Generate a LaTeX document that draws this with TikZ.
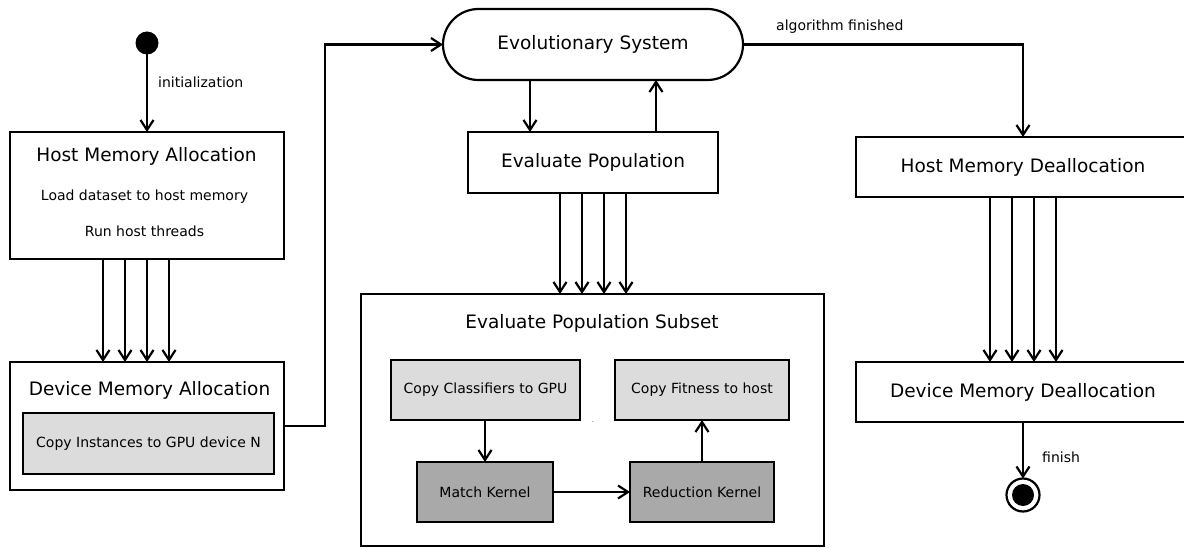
\documentclass[tikz,border=0pt]{standalone}
\usepackage{fontspec}
\setmainfont{DejaVu Sans}
\usetikzlibrary{arrows.meta,shapes.misc}
\definecolor{lightg}{HTML}{DCDCDC}
\definecolor{darkg}{HTML}{A9A9A9}
\begin{document}
\begin{tikzpicture}[x=1pt,y=-1pt,
  box/.style={draw=black, line width=2.2pt, fill=white, inner sep=0pt, outer sep=0pt},
  lbox/.style={box, fill=lightg},
  dbox/.style={box, fill=darkg},
  conn/.style={line width=2.2pt, -{Straight Barb[length=10pt,width=13pt]}},
  big/.style={font=\fontsize{18.5}{22}\selectfont, inner sep=0pt},
  small/.style={font=\fontsize{14}{17}\selectfont, inner sep=0pt}]
\useasboundingbox (0,0) rectangle (1184,548);

% start
\node[circle, fill=black, minimum size=23pt, inner sep=0pt, outer sep=0pt] (start) at (147,43) {};
\node[small, anchor=west] (initl) at (158,82) {initialization};

% host memory allocation
\node[box, minimum width=274pt, minimum height=127pt] (hma) at (147,195.5) {};
\node[big] (hmat) at (146.5,156) {Host Memory Allocation};
\node[small] (hmal1) at (144.5,197) {Load dataset to host memory};
\node[small] (hmal2) at (144.5,231) {Run host threads};

% device memory allocation
\node[box, minimum width=274pt, minimum height=128pt] (dma) at (147,426) {};
\node[big] (dmat) at (149.5,390) {Device Memory Allocation};
\node[lbox, minimum width=251pt, minimum height=61pt, font=\fontsize{14}{17}\selectfont] (cig) at (148.5,443.5) {Copy Instances to GPU device N};

% evolutionary system
\node[draw=black, line width=2.2pt, rounded rectangle, rounded rectangle arc length=180,
      minimum width=300pt, minimum height=71pt, inner sep=0pt, outer sep=0pt,
      font=\fontsize{18.5}{22}\selectfont] (es) at (593,44.5) {Evolutionary System};

% evaluate population
\node[box, minimum width=250pt, minimum height=61pt, font=\fontsize{18.5}{22}\selectfont] (ep) at (593,162.5) {Evaluate Population};

% evaluate population subset
\node[box, minimum width=463pt, minimum height=252pt] (eps) at (592.5,420) {};
\node[big] (epst) at (592,323) {Evaluate Population Subset};
\node[lbox, minimum width=189pt, minimum height=60pt, font=\fontsize{14}{17}\selectfont] (ccg) at (485.5,390) {Copy Classifiers to GPU};
\node[lbox, minimum width=174pt, minimum height=60pt, font=\fontsize{14}{17}\selectfont] (cfh) at (702,390) {Copy Fitness to host};
\node[dbox, minimum width=136pt, minimum height=60pt, font=\fontsize{14}{17}\selectfont] (mk) at (485,492) {Match Kernel};
\node[dbox, minimum width=144pt, minimum height=60pt, font=\fontsize{14}{17}\selectfont] (rk) at (702,492) {Reduction Kernel};
\node[font=\fontsize{8}{9}\selectfont, text=gray, inner sep=0pt, anchor=base] (dot) at (593,422) {.};

% host / device memory deallocation
\node[box, minimum width=334pt, minimum height=60pt, font=\fontsize{18.5}{22}\selectfont] (hmd) at (1023,167) {Host Memory Deallocation};
\node[box, minimum width=334pt, minimum height=60pt, font=\fontsize{18.5}{22}\selectfont] (dmd) at (1023,392) {Device Memory Deallocation};
\node[small, anchor=west] (algl) at (776,27) {algorithm finished};

% end
\node[circle, draw=black, line width=2.2pt, minimum size=33pt, inner sep=0pt, outer sep=0pt] (endc) at (1023,495) {};
\fill[black] (endc.center) circle (11pt);
\node[small, anchor=west] (finl) at (1042,457) {finish};

% x positions for parallel arrows
\foreach \n/\x in {a1/103,a2/125,a3/147,a4/169,b1/560,b2/582,b3/604,b4/626,d1/990,d2/1012,d3/1034,d4/1056,e1/530,e2/656}
  \coordinate (\n) at (\x,0);
\coordinate (c1) at (325,426);

% connectors
\draw[conn] (start) -- (hma.north);
\foreach \n in {a1,a2,a3,a4} \draw[conn] (hma.south -| \n) -- (dma.north -| \n);
\draw[conn] (dma.east) -- (c1) |- (es.west);
\draw[conn] (es.south -| e1) -- (ep.north -| e1);
\draw[conn] (ep.north -| e2) -- (es.south -| e2);
\foreach \n in {b1,b2,b3,b4} \draw[conn] (ep.south -| \n) -- (eps.north -| \n);
\draw[conn] (ccg.south -| mk.north) -- (mk.north);
\draw[conn] (mk.east) -- (rk.west);
\draw[conn] (rk.north) -- (cfh.south);
\draw[conn] (es.east) -| (hmd.north);
\foreach \n in {d1,d2,d3,d4} \draw[conn] (hmd.south -| \n) -- (dmd.north -| \n);
\draw[conn] (dmd.south) -- (endc.north);
\end{tikzpicture}
\end{document}
